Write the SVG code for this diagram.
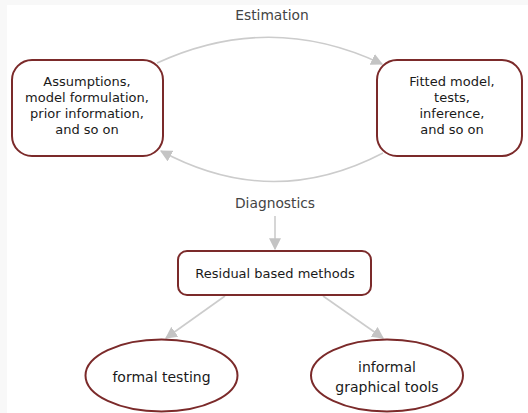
<svg xmlns="http://www.w3.org/2000/svg" width="528" height="413" viewBox="0 0 528 413">
<defs>
<style>
.node{fill:#fff;stroke:#7b2a2a;stroke-width:2}
.t{font-family:"DejaVu Sans","Noto Sans",sans-serif;font-size:13px;fill:#1a1a1a;text-anchor:middle}
.big{font-size:14px}
.lbl{font-family:"DejaVu Sans","Noto Sans",sans-serif;font-size:13.8px;fill:#444;text-anchor:middle}
.edge{fill:none;stroke:#cccccc;stroke-width:1.6}
</style>
<marker id="ah2" viewBox="0 0 10 10" refX="9" refY="5" markerWidth="12" markerHeight="12" markerUnits="userSpaceOnUse" orient="auto">
<path d="M0,0 L10,5 L0,10 z" fill="#c4c4c4"/>
</marker>
</defs>
<rect x="0" y="0" width="528" height="413" fill="#f8f8f8"/>
<rect x="7" y="5" width="521" height="408" fill="#ffffff"/>
<g id="connectors">
<path class="edge" d="M157,63 Q270,11 382,64" marker-end="url(#ah2)"/>
<path class="edge" d="M383,153 Q272,211 161,151" marker-end="url(#ah2)"/>
<line class="edge" x1="275" y1="216" x2="275" y2="249" marker-end="url(#ah2)"/>
<line class="edge" x1="225" y1="296" x2="166" y2="338" marker-end="url(#ah2)"/>
<line class="edge" x1="323" y1="296" x2="383" y2="338" marker-end="url(#ah2)"/>
</g>
<text class="lbl" x="272" y="20">Estimation</text>
<text class="lbl" x="275" y="208">Diagnostics</text>
<g id="assumptions">
<rect class="node" x="12" y="60" width="151" height="96" rx="20"/>
<text class="t" x="87" y="86">Assumptions,</text>
<text class="t" x="87" y="102">model formulation,</text>
<text class="t" x="87" y="118">prior information,</text>
<text class="t" x="87" y="134">and so on</text>
</g>
<g id="fitted">
<rect class="node" x="377" y="60" width="145" height="96" rx="20"/>
<text class="t" x="452" y="86">Fitted model,</text>
<text class="t" x="452" y="102">tests,</text>
<text class="t" x="452" y="118">inference,</text>
<text class="t" x="452" y="134">and so on</text>
</g>
<g id="residual">
<rect class="node" x="178" y="251" width="193" height="44" rx="9"/>
<text class="t" x="275" y="278">Residual based methods</text>
</g>
<g id="formal">
<ellipse class="node" cx="161.5" cy="375.5" rx="76" ry="36"/>
<text class="t big" x="161.5" y="382">formal testing</text>
</g>
<g id="informal">
<ellipse class="node" cx="387" cy="375.5" rx="76" ry="36"/>
<text class="t big" x="387" y="372">informal</text>
<text class="t big" x="387" y="392">graphical tools</text>
</g>
</svg>
